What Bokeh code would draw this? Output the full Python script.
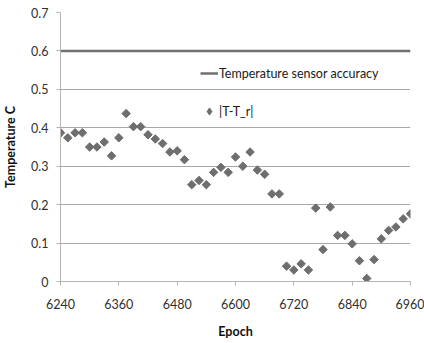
import math
from bokeh.plotting import figure
from bokeh.models import FixedTicker, NumeralTickFormatter, Legend, LegendItem, Range1d
from bokeh.embed import file_html
from bokeh.resources import INLINE

epochs = [6240, 6255, 6270, 6285, 6300, 6315, 6330, 6345, 6360, 6375,
          6390, 6405, 6420, 6435, 6450, 6465, 6480, 6495, 6510, 6525,
          6540, 6555, 6570, 6585, 6600, 6615, 6630, 6645, 6660, 6675,
          6690, 6705, 6720, 6735, 6750, 6765, 6780, 6795, 6810, 6825,
          6840, 6855, 6870, 6885, 6900, 6915, 6930, 6945, 6960]
diff = [0.387, 0.374, 0.387, 0.387, 0.350, 0.350, 0.363, 0.327, 0.374, 0.437,
        0.403, 0.403, 0.382, 0.371, 0.359, 0.337, 0.340, 0.317, 0.252, 0.263,
        0.252, 0.284, 0.297, 0.284, 0.324, 0.300, 0.337, 0.290, 0.279, 0.228,
        0.228, 0.040, 0.030, 0.046, 0.030, 0.191, 0.083, 0.194, 0.120, 0.120,
        0.098, 0.054, 0.008, 0.057, 0.111, 0.133, 0.142, 0.163, 0.176]
accuracy = 0.6
x_ticks = [6240, 6360, 6480, 6600, 6720, 6840, 6960]
y_ticks = [0, 0.1, 0.2, 0.3, 0.4, 0.5, 0.6, 0.7]

FONT = "Lato"
GRAY = "#6e6e6e"

p = figure(width=424, height=343, output_backend="svg", toolbar_location=None,
           x_range=Range1d(6240, 6960), y_range=Range1d(0, 0.7),
           min_border_left=59, min_border_right=14, min_border_top=12, min_border_bottom=62)
p.outline_line_color = None
p.background_fill_color = "white"
p.border_fill_color = "white"

p.xgrid.visible = False
p.ygrid.grid_line_color = "#a8a8a8"
p.ygrid.grid_line_width = 1
p.ygrid.ticker = FixedTicker(ticks=y_ticks)

for ax in (p.xaxis[0], p.yaxis[0]):
    ax.axis_line_color = "#b4b4b4"
    ax.major_tick_line_color = "#b4b4b4"
    ax.major_tick_out = 4
    ax.major_tick_in = 0
    ax.minor_tick_line_color = None
    ax.major_label_text_font = FONT
    ax.major_label_text_font_size = "12.5px"
    ax.major_label_text_color = "#303030"
    ax.axis_label_text_font = FONT
    ax.axis_label_text_font_size = "12.5px"
    ax.axis_label_text_font_style = "bold"
    ax.axis_label_text_color = "#101010"

p.xaxis.ticker = FixedTicker(ticks=x_ticks)
p.yaxis.ticker = FixedTicker(ticks=y_ticks)
p.yaxis.formatter = NumeralTickFormatter(format="0.[0]")
p.xaxis.axis_label = "Epoch"
p.yaxis.axis_label = "Temperature C"
p.xaxis.major_label_standoff = 13
p.xaxis.axis_label_standoff = 12
p.yaxis.major_label_standoff = 8
p.yaxis.axis_label_standoff = 10

line_r = p.line(x=[epochs[0], epochs[-1]], y=[accuracy, accuracy],
                line_color="#707070", line_width=2.5)
# legend proxy drawn on the first data point, hidden beneath the real marker
proxy = p.scatter(x=epochs[:1], y=diff[:1], marker="diamond", size=9,
                  fill_color=GRAY, line_color=GRAY)
pts = p.scatter(x=epochs, y=diff, marker="square", angle=math.pi / 4, size=6,
                fill_color=GRAY, line_color=GRAY)

legend = Legend(items=[LegendItem(label="Temperature sensor accuracy", renderers=[line_r]),
                       LegendItem(label="|T-T_r|", renderers=[proxy])],
                location=(140, 160), orientation="vertical",
                padding=0, margin=0, spacing=18,
                glyph_width=18, glyph_height=20, label_height=20,
                label_standoff=1,
                label_text_font=FONT, label_text_font_size="12.5px",
                label_text_color="#202020",
                border_line_alpha=0, background_fill_alpha=0)
p.add_layout(legend)

open("out.html", "w").write(file_html(p, INLINE))
